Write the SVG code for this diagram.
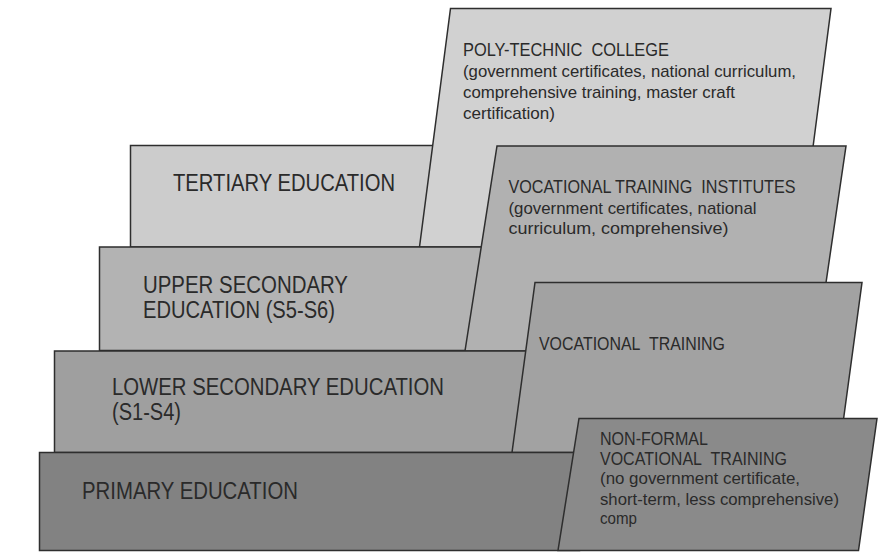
<svg xmlns="http://www.w3.org/2000/svg" width="878" height="552" viewBox="0 0 878 552">
<style>
.s{stroke:#2e2e2e;stroke-width:1.5;stroke-linejoin:miter}
.t{font-family:"Liberation Sans",Arial,sans-serif;fill:#2a2a2a}
.big{font-size:23px}
.hd{font-size:18.5px}
.sm{font-size:17px}
</style>
<rect width="878" height="552" fill="#ffffff"/>
<g id="tertiary">
<rect class="s" x="130.5" y="145.5" width="310" height="101.5" fill="#cccccc"/>
<text class="t big" x="173" y="191" textLength="222" lengthAdjust="spacingAndGlyphs">TERTIARY EDUCATION</text>
</g>
<g id="polytechnic">
<polygon class="s" points="450.5,8.5 831,8.5 800,247 419.5,247" fill="#d1d1d1"/>
<text class="t hd" x="463" y="55.5" textLength="206" lengthAdjust="spacingAndGlyphs">POLY-TECHNIC&#160; COLLEGE</text>
<text class="t sm" x="463" y="77" textLength="333" lengthAdjust="spacingAndGlyphs">(government certificates, national curriculum,</text>
<text class="t sm" x="463" y="98" textLength="272" lengthAdjust="spacingAndGlyphs">comprehensive training, master craft</text>
<text class="t sm" x="463" y="118.5" textLength="92" lengthAdjust="spacingAndGlyphs">certification)</text>
</g>
<g id="upper-secondary">
<rect class="s" x="99.5" y="247" width="390" height="103.5" fill="#b3b3b3"/>
<text class="t big" x="143" y="293" textLength="205" lengthAdjust="spacingAndGlyphs">UPPER SECONDARY</text>
<text class="t big" x="143" y="318" textLength="192" lengthAdjust="spacingAndGlyphs">EDUCATION (S5-S6)</text>
</g>
<g id="vocational-training-institutes">
<polygon class="s" points="497,146 846,146 816,351 465,351" fill="#b1b1b1"/>
<text class="t hd" x="508.5" y="192.5" textLength="287" lengthAdjust="spacingAndGlyphs">VOCATIONAL TRAINING&#160; INSTITUTES</text>
<text class="t sm" x="508.5" y="213.5" textLength="248" lengthAdjust="spacingAndGlyphs">(government certificates, national</text>
<text class="t sm" x="508.5" y="234" textLength="220" lengthAdjust="spacingAndGlyphs">curriculum, comprehensive)</text>
</g>
<g id="lower-secondary">
<rect class="s" x="54.5" y="351" width="480" height="101.5" fill="#9f9f9f"/>
<text class="t big" x="112" y="395" textLength="332" lengthAdjust="spacingAndGlyphs">LOWER SECONDARY EDUCATION</text>
<text class="t big" x="112" y="420" textLength="69" lengthAdjust="spacingAndGlyphs">(S1-S4)</text>
</g>
<g id="vocational-training">
<polygon class="s" points="535,282.5 862,282.5 839,452.5 512,452.5" fill="#a2a2a2"/>
<text class="t hd" x="539" y="349.5" textLength="186" lengthAdjust="spacingAndGlyphs">VOCATIONAL&#160; TRAINING</text>
</g>
<g id="primary">
<rect class="s" x="39.5" y="452.5" width="540" height="98" fill="#828282"/>
<text class="t big" x="82" y="498.5" textLength="216" lengthAdjust="spacingAndGlyphs">PRIMARY EDUCATION</text>
</g>
<g id="non-formal">
<polygon class="s" points="579,418.5 877,418.5 858.5,550.5 558,550.5" fill="#8a8a8a"/>
<text class="t hd" x="600" y="444.5" textLength="108" lengthAdjust="spacingAndGlyphs">NON-FORMAL</text>
<text class="t hd" x="600" y="464.5" textLength="187" lengthAdjust="spacingAndGlyphs">VOCATIONAL&#160; TRAINING</text>
<text class="t sm" x="600" y="484" textLength="200" lengthAdjust="spacingAndGlyphs">(no government certificate,</text>
<text class="t sm" x="600" y="504.5" textLength="239" lengthAdjust="spacingAndGlyphs">short-term, less comprehensive)</text>
<text class="t sm" x="600" y="524" textLength="37" lengthAdjust="spacingAndGlyphs">comp</text>
</g>
<g id="connectors"></g>
</svg>
